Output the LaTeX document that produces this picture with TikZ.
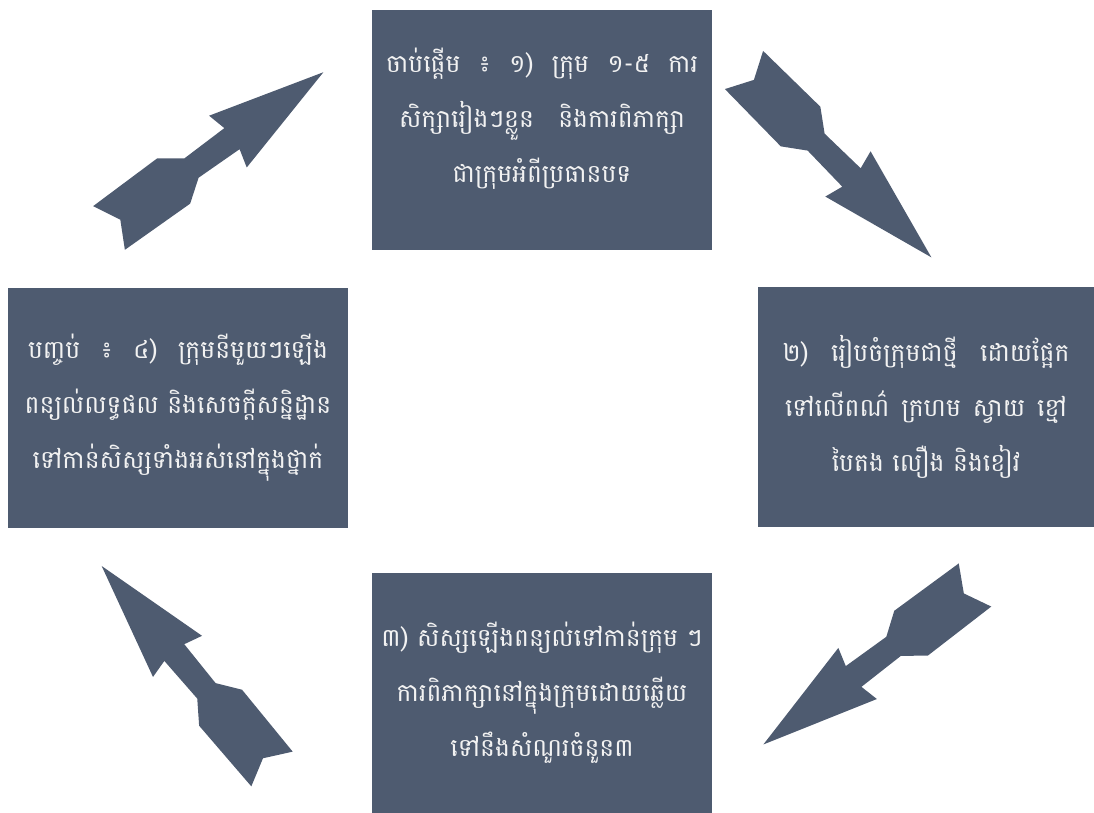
\documentclass[tikz,border=0pt]{standalone}
\usepackage{fontspec}
\newfontfamily\khmerfont[Script=Khmer]{Battambang}
\usetikzlibrary{positioning, calc}
\definecolor{slate}{HTML}{4E5B70}
\definecolor{paper}{HTML}{F2F2F2}
\newcommand{\spread}[2]{\makebox[#1][s]{#2}}
\newcommand{\fatarrow}[2]{%
  \fill[slate, shift={(#1)}, rotate=#2]
    (0,27) -- (14,0) -- (0,-27) -- (80,-28) -- (102,-12) -- (152,-13)
    -- (147,-32) -- (265,0) -- (147,32) -- (152,13) -- (102,12)
    -- (80,28) -- cycle;}

\begin{document}
\begin{tikzpicture}[x=1pt, y=1pt,
    phase/.style={fill=slate, text=paper, inner sep=0pt,
                  minimum width=340pt, minimum height=240pt, align=center,
                  font=\khmerfont\fontsize{25}{55}\selectfont}]
  \useasboundingbox (0,0) rectangle (1094,813);
  \node[phase, text depth=30pt] (start) at (542,683)
    {\spread{312pt}{ចាប់ផ្តើម ៖ ១) ក្រុម ១-៥ ការ}\\
     \spread{286pt}{សិក្សារៀងៗខ្លួន និងការពិភាក្សា}\\
     ជាក្រុមអំពីប្រធានបទ};
  \node[phase, minimum width=336pt] (regroup) at (926,406)
    {\spread{287pt}{២) រៀបចំក្រុមជាថ្មី ដោយផ្អែក}\\
     \spread{282pt}{ទៅលើពណ៌ ក្រហម ស្វាយ ខ្មៅ}\\
     បៃតង លឿង និងខៀវ};
  \node[phase] (explain) at (542,120)
    {៣) សិស្សឡើងពន្យល់ទៅកាន់ក្រុម ៗ\\
     ការពិភាក្សានៅក្នុងក្រុមដោយឆ្លើយ\\
     ទៅនឹងសំណួរចំនួន៣};
  \node[phase] (finish) at (178,405)
    {\spread{300pt}{បញ្ចប់ ៖ ៤) ក្រុមនីមួយៗឡើង}\\
     ពន្យល់លទ្ធផល និងសេចក្តីសន្និដ្ឋាន\\
     ទៅកាន់សិស្សទាំងអស់នៅក្នុងថ្នាក់};
  % arrow tails
  \coordinate (tail1) at (744,743);
  \coordinate (tail2) at (975,228);
  \coordinate (tail3) at (272,44);
  \coordinate (tail4) at (109,585);
  \fatarrow{tail1}{-45}
  \fatarrow{tail2}{217}
  \fatarrow{tail3}{130}
  \fatarrow{tail4}{36}
\end{tikzpicture}
\end{document}
